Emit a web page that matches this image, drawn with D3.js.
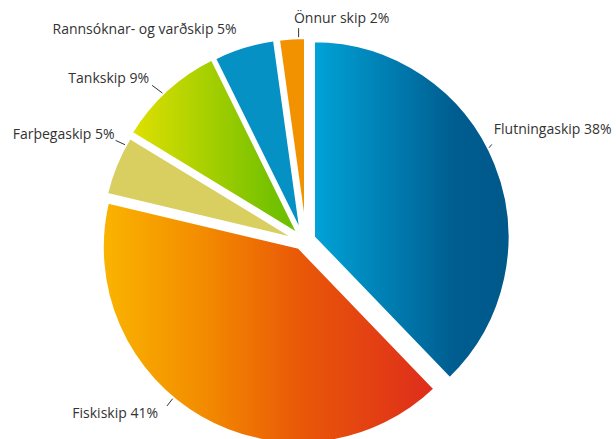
<!DOCTYPE html>
<html><head><meta charset="utf-8">
<script src="https://cdn.jsdelivr.net/npm/d3@7"></script>
<style>html,body{margin:0;padding:0;background:#fff;overflow:hidden}svg{display:block}</style>
</head><body>
<svg id="chart" width="616" height="439"></svg>
<script>
// ---- data ----
const categories = ["Flutningaskip", "Fiskiskip", "Farþegaskip", "Tankskip", "Rannsóknar- og varðskip", "Önnur skip"];
const shares = [37.8, 40.9, 5.0, 9.0, 5.1, 2.2];
const shareLabels = ["38%", "41%", "5%", "9%", "5%", "2%"];

// ---- style / layout ----
const W = 616, H = 439;
const center = [306, 235];
const radius = 196.5;
// per-slice pull-out of each wedge (px)
const sliceOffset = [[7.5, 2.2], [-7.2, 12.3], [-8.4, 4.6], [-7, 0], [-4.5, -0.5], [-0.5, -1]];
const fills = [
  [[0, "#00a3d8"], [0.72, "#005d90"], [1, "#00588a"]],
  [[0, "#fab400"], [0.3, "#f38c00"], [0.6, "#e95708"], [1, "#de2c1c"]],
  [[0, "#d9cf60"], [1, "#d9cf60"]],
  [[0, "#e0e000"], [0.85, "#74c100"], [1, "#6cbf00"]],
  [[0, "#0591c3"], [1, "#0591c3"]],
  [[0, "#f39200"], [1, "#f39200"]]
];
// label layout: angle on the arc (deg) where the leader starts, leader vector, text offset, anchor
const labelLayout = [
  {a: 63,    lead: [2.8, -3.3],   txt: [2, -10.5],   anchor: "start"},
  {a: 219.8, lead: [-5.7, 7.3],   txt: [-9, 12.3],   anchor: "end"},
  {a: 298.8, lead: [-9.4, -4.3],  txt: [-1, -1.6],   anchor: "end"},
  {a: 316.1, lead: [-10.3, -7.7], txt: [-3, -2.3],   anchor: "end"},
  {a: 342.2, lead: null,          txt: [-4.6, -12.6], anchor: "end"},
  {a: 358.0, lead: [0, -9],       txt: [-4.7, -5],   anchor: "start"}
];

const svg = d3.select("#chart");
svg.append("rect").attr("width", W).attr("height", H).attr("fill", "#fff");
const defs = svg.append("defs");
fills.forEach((stops, i) => {
  const g = defs.append("linearGradient").attr("id", "g" + i)
    .attr("x1", "0%").attr("x2", "100%").attr("y1", "0%").attr("y2", "0%");
  stops.forEach(s => g.append("stop").attr("offset", s[0]).attr("stop-color", s[1]));
});

const data = categories.map((c, i) => ({name: c, value: shares[i], label: shareLabels[i], i}));
const pie = d3.pie().sort(null).value(d => d.value).startAngle(0).endAngle(2 * Math.PI);
const arcs = pie(data);
const arc = d3.arc().innerRadius(0).outerRadius(radius);
const pt = (a, r) => [r * Math.sin(a), -r * Math.cos(a)];

const root = svg.append("g").attr("transform", `translate(${center[0]},${center[1]})`);

arcs.forEach((d, i) => {
  const off = sliceOffset[i];
  const g = root.append("g").attr("transform", `translate(${off[0]},${off[1]})`);
  g.append("path").attr("d", arc(d))
    .attr("fill", `url(#g${i})`)
    .attr("stroke", "#fff").attr("stroke-width", 3).attr("stroke-linejoin", "miter");

  const L = labelLayout[i];
  const s = pt(L.a * Math.PI / 180, radius + 0.5);
  let e = s;
  if (L.lead) {
    e = [s[0] + L.lead[0], s[1] + L.lead[1]];
    g.append("line").attr("x1", s[0]).attr("y1", s[1]).attr("x2", e[0]).attr("y2", e[1])
      .attr("stroke", "#333").attr("stroke-width", 1);
  }
  g.append("text").attr("x", e[0] + L.txt[0]).attr("y", e[1] + L.txt[1])
    .attr("text-anchor", L.anchor)
    .attr("font-family", "'Open Sans', sans-serif").attr("font-size", 14)
    .attr("fill", "#333")
    .text(`${d.data.name} ${d.data.label}`);
});
</script>
</body></html>
